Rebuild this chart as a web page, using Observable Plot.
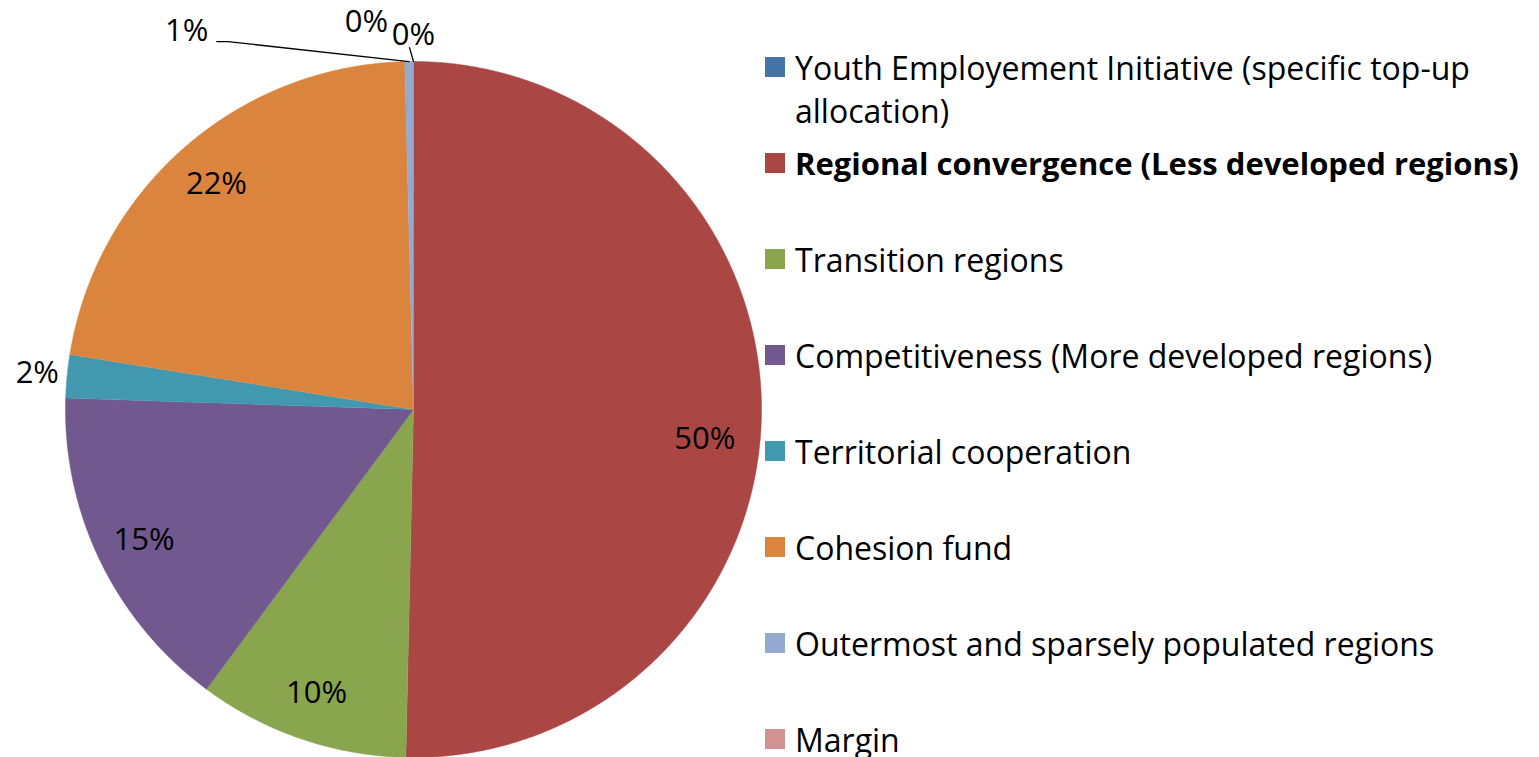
<!DOCTYPE html>
<html>
<head>
<meta charset="utf-8">
<script src="https://cdn.jsdelivr.net/npm/d3@7"></script>
<script src="https://cdn.jsdelivr.net/npm/@observablehq/plot@0.6"></script>
<style>
  html, body { margin: 0; padding: 0; background: #fff; }
  #wrap { position: relative; width: 1539px; height: 757px; overflow: hidden; font-family: "Open Sans", Lato, sans-serif; }
  #wrap svg { position: absolute; left: 0; top: 0; }
  .item { position: absolute; left: 765px; width: 774px; line-height: 43px; font-size: 32px; color: #000; }
  .sw { position: absolute; left: 0; top: 11.5px; width: 20px; height: 20px; }
  .tx { position: absolute; left: 30px; width: 740px; }
</style>
</head>
<body>
<div id="wrap"></div>
<script>
// ---- data ----
const categories = [
  "Youth Employement Initiative (specific top-up allocation)",
  "Regional convergence (Less developed regions)",
  "Transition regions",
  "Competitiveness (More developed regions)",
  "Territorial cooperation",
  "Cohesion fund",
  "Outermost and sparsely populated regions",
  "Margin"
];
const shares = [0, 50.4, 9.8, 15.4, 2.0, 22.1, 0.4, 0];
const pctLabels = ["0%", "50%", "10%", "15%", "2%", "22%", "1%", "0%"];
const colors = ["#4572A7", "#AA4643", "#89A54E", "#71588F", "#4198AF", "#DB843D", "#93A9CF", "#D19392"];

// ---- geometry (unit circle, angle 0 at 12 o'clock, clockwise) ----
const R = 348;           // radius in px (layout)
const P = 1 / R;         // one pixel in data units
const arcs = d3.pie().sort(null).value(d => d)(shares);
const polar = (a, r) => [r * Math.sin(a), r * Math.cos(a)];

const slicePts = [];
arcs.forEach((a, i) => {
  const span = a.endAngle - a.startAngle;
  if (span <= 0) return;
  const n = Math.max(2, Math.ceil(span / 0.004));
  slicePts.push({name: categories[i], x: 0, y: 0});
  for (let j = 0; j <= n; ++j) {
    const [x, y] = polar(a.startAngle + span * j / n, 1);
    slicePts.push({name: categories[i], x, y});
  }
});

const mid = a => (a.startAngle + a.endAngle) / 2;
const labelRows = arcs.map((a, i) => ({i, name: categories[i], share: shares[i], label: pctLabels[i], mid: mid(a)}));
const maxShare = d3.max(shares);

// inside labels
const inside = labelRows.filter(d => d.share >= 5).map(d => {
  const [x, y] = polar(d.mid, 0.86);
  return {...d, x, y};
});
// outside label for small (but visible) slice
const outside = labelRows.filter(d => d.share >= 1 && d.share < 5).map(d => {
  const [x, y] = polar(d.mid, 1.086);
  return {...d, x, y};
});
// tiny slices: labels pushed aside (Excel best-fit layout), offsets in px
const tinyShift = {0: [0, 4], 6: [-222, -1], 7: [-47, -9]};
const tiny = labelRows.filter(d => d.share < 1).map(d => {
  const [x, y] = polar(d.mid, 1.086);
  const s = tinyShift[d.i] || [0, 0];
  return {...d, x: x + s[0] * P, y: y - s[1] * P};
});

// leader lines
const leaders = [];
tiny.forEach(d => {
  const [ax, ay] = polar(d.mid, 1);
  if (d.i === 0) {
    const [bx, by] = polar(d.mid, 1.04);
    leaders.push({k: d.i, x: ax, y: ay}, {k: d.i, x: bx - 4 * P, y: by});
  } else if (d.i === 6) {
    leaders.push({k: d.i, x: ax, y: ay},
                 {k: d.i, x: d.x + 41 * P, y: d.y - 11 * P},
                 {k: d.i, x: d.x + 30 * P, y: d.y - 11 * P});
  }
});

const font = "'Open Sans', Lato, sans-serif";
const fs = 31;

const plot = Plot.plot({
  width: 1539,
  height: 757,
  marginLeft: 65,
  marginRight: 778,
  marginTop: 61,
  marginBottom: 0,
  x: {domain: [-1, 1], axis: null},
  y: {domain: [-1, 1], axis: null},
  color: {domain: categories, range: colors},
  style: {fontFamily: font, background: "transparent", overflow: "visible"},
  marks: [
    Plot.line(slicePts, {x: "x", y: "y", z: "name", fill: "name", stroke: "name", strokeWidth: 0.5, curve: "linear"}),
    Plot.line(leaders, {x: "x", y: "y", z: "k", stroke: "#000", strokeWidth: 1.3, curve: "linear"}),
    Plot.text(inside.filter(d => d.share < maxShare), {x: "x", y: "y", text: "label", fontSize: fs, fill: "#000"}),
    Plot.text(inside.filter(d => d.share === maxShare), {x: "x", y: "y", text: "label", fontSize: fs, fill: "#000", dx: -8, dy: 26}),
    Plot.text(outside, {x: "x", y: "y", text: "label", fontSize: fs, fill: "#000"}),
    Plot.text(tiny, {x: "x", y: "y", text: "label", fontSize: fs, fill: "#000"})
  ]
});

const wrap = document.getElementById("wrap");
wrap.appendChild(plot);

// ---- legend ----
const centers = categories.map((_, i) => i === 0 ? 67 : 163 + (i - 1) * 96);
categories.forEach((c, i) => {
  const item = document.createElement("div");
  item.className = "item";
  item.style.top = (centers[i] - 21.5) + "px";
  const sw = document.createElement("span");
  sw.className = "sw";
  sw.style.background = colors[i];
  const tx = document.createElement("span");
  tx.className = "tx";
  tx.textContent = c;
  if (i === 1) { tx.style.fontWeight = "bold"; tx.style.whiteSpace = "nowrap"; tx.style.fontSize = "31px"; }
  item.appendChild(sw);
  item.appendChild(tx);
  wrap.appendChild(item);
});
</script>
</body>
</html>
